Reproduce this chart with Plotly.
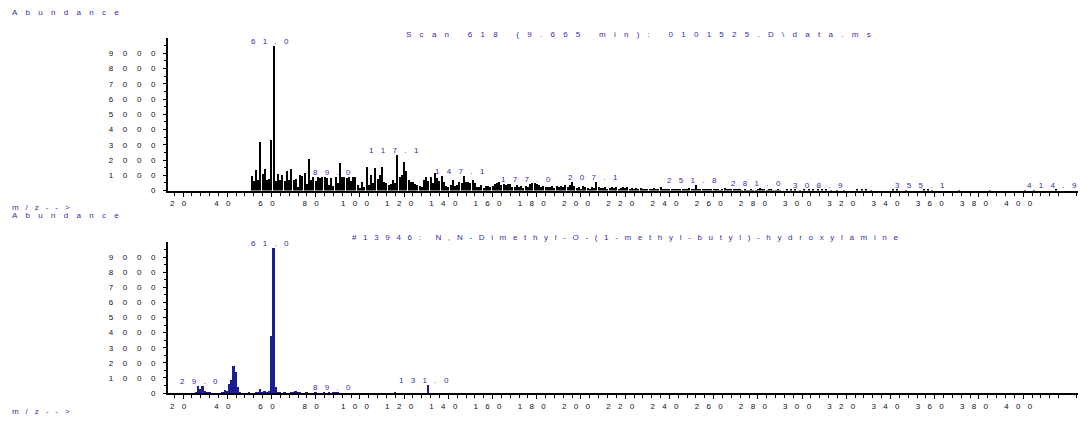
import itertools
import plotly.graph_objects as go

# ---------------- data ----------------
# Sample spectrum (scan 618) : m/z 51..290 contiguous, then sparse small peaks
top_mz_main = list(range(51, 291))
top_ab_main = [
    950, 630, 1320, 700, 3180, 1070, 1380, 700, 740, 3310,      # 51-60
    9480, 610, 1070, 670, 1030, 650, 1290, 700, 1400, 700,      # 61-70
    740, 250, 1030, 980, 1150, 420, 2040, 680, 870, 650,        # 71-80
    870, 800, 870, 870, 800, 360, 800, 290, 870, 460,           # 81-90
    1830, 870, 870, 800, 870, 640, 870, 870, 360, 150,          # 91-100
    580, 200, 1530, 370, 1030, 480, 1460, 740, 1030, 1530,      # 101-110
    590, 480, 330, 440, 700, 480, 2340, 870, 1030, 1900,        # 111-120
    1310, 700, 590, 525, 440, 370, 300, 220, 700, 870,          # 121-130
    650, 870, 480, 1140, 810, 650, 920, 525, 300, 220,          # 131-140
    370, 700, 300, 370, 590, 480, 920, 525, 525, 480,           # 141-150
    700, 480, 220, 260, 370, 150, 300, 300, 250, 300,           # 151-160
    420, 520, 560, 380, 400, 330, 430, 450, 210, 260,           # 161-170
    330, 200, 280, 150, 310, 240, 420, 480, 470, 400,           # 171-180
    390, 230, 300, 200, 260, 220, 310, 180, 270, 240,           # 181-190
    300, 260, 340, 230, 380, 560, 300, 170, 220, 130,           # 191-200
    280, 260, 190, 120, 200, 150, 580, 260, 180, 150,           # 201-210
    200, 90, 180, 230, 160, 210, 120, 160, 240, 180,            # 211-220
    200, 130, 190, 110, 150, 90, 140, 70, 110, 60,              # 221-230
    120, 80, 160, 60, 100, 220, 110, 70, 100, 60,               # 231-240
    80, 50, 100, 60, 80, 40, 70, 50, 150, 80,                   # 241-250
    60, 380, 110, 60, 80, 70, 90, 50, 60, 70,                   # 251-260
    40, 50, 30, 60, 140, 100, 120, 80, 110, 60,                 # 261-270
    90, 40, 30, 50, 20, 30, 40, 20, 30, 40,                     # 271-280
    180, 60, 50, 30, 40, 70, 30, 20, 50, 30,                    # 281-290
]
top_mz_tail = [293, 295, 297, 299, 301, 303, 305, 307, 309, 311, 313, 316, 319,
               325, 327, 329, 331, 341, 343, 347, 355, 357, 359, 371, 385, 401, 405, 415]
top_ab_tail = [40, 50, 40, 30, 60, 40, 50, 70, 60, 40, 30, 30, 20,
               40, 50, 40, 30, 80, 40, 20, 60, 70, 30, 20, 20, 30, 20, 60]
top_mz = top_mz_main + top_mz_tail
top_ab = top_ab_main + top_ab_tail
top_labels = [61.0, 89.0, 117.1, 147.1, 177.0, 207.1, 251.8, 281.0, 308.9, 355.1, 414.9]

# Library spectrum (#13946)
bot_mz = [26, 27, 28, 29, 30, 31, 32, 38, 39, 40, 41, 42, 43, 44, 45, 46, 50, 53, 54, 55,
          56, 57, 58, 59, 60, 61, 62, 63, 64, 66, 69, 70, 71, 72, 73, 76, 80, 84, 86, 88,
          89, 90, 116, 131]
bot_ab = [40, 440, 250, 440, 120, 50, 30, 40, 220, 80, 620, 880, 1760, 1420, 380, 40, 20, 60, 40, 290,
          60, 80, 30, 160, 3800, 9580, 420, 60, 30, 30, 40, 60, 110, 40, 40, 30, 30, 40, 30, 30,
          60, 30, 30, 510]
bot_labels = [29.0, 61.0, 89.0, 131.0]

x_ticks = list(range(20, 401, 20))
y_ticks = list(range(0, 9001, 1000))
top_title = "Scan 618 (9.665 min): 0101525.D\\data.ms"
bot_title = "#13946: N,N-Dimethyl-O-(1-methyl-butyl)-hydroxylamine"

# ---------------- styling helpers ----------------
FONT = "Liberation Sans, Arial, sans-serif"
FS = 8
BLUE = "#2f2fa8"
TXT = "#111111"

_SPACES = [(1.0, "\u2003"), (0.5, "\u2002"), (1 / 3, "\u2004"), (0.25, "\u2005"),
           (0.2, "\u2009"), (1 / 6, "\u2006")]


def gap(pxw, fs=FS):
    best, best_err = "", 1e9
    for n in range(1, 4):
        for combo in itertools.combinations_with_replacement(_SPACES, n):
            w = sum(c[0] for c in combo) * fs
            err = abs(w - pxw) + 0.01 * n
            if err < best_err:
                best_err, best = err, "".join(c[1] for c in combo)
    return best


def sp(s, g, word_extra=2.0):
    sep = gap(g)
    wsep = gap(2 * g + word_extra)
    return wsep.join(sep.join(list(w)) for w in s.split(" "))


W, H = 1083, 421
L, R, T, B = 168, 5, 38, 28
PW, PH = W - L - R, H - T - B


def px(xp):
    return (xp - L) / PW


def py(yp):
    return (H - B - yp) / PH


XR = [13.2, 424.8]
minor_x = [v for v in range(16, 425, 4) if v % 20 != 0]
minor_y = [v for v in range(500, 10001, 1000)]

fig = go.Figure()
fig.add_trace(go.Bar(x=top_mz, y=top_ab, width=0.48, marker=dict(color="#000000", line=dict(width=0)),
                     xaxis="x", yaxis="y", showlegend=False, hoverinfo="x+y"))
fig.add_trace(go.Bar(x=bot_mz, y=bot_ab, width=0.85, marker=dict(color="#1c1c94", line=dict(width=0)),
                     xaxis="x2", yaxis="y2", showlegend=False, hoverinfo="x+y"))

xa = dict(range=XR, showgrid=False, zeroline=False, showline=True, linecolor="black", linewidth=2,
          ticks="outside", ticklen=4, tickwidth=1, tickcolor="black",
          tickmode="array", tickvals=x_ticks, ticktext=[sp(str(v), 7.3) for v in x_ticks],
          tickfont=dict(family=FONT, size=FS, color=TXT), ticklabelshift=-5,
          minor=dict(tickvals=minor_x, ticks="outside", ticklen=3, tickwidth=1, tickcolor="black", showgrid=False))
ya = dict(range=[0, 10000], showgrid=False, zeroline=False, showline=True, linecolor="black", linewidth=2,
          ticks="outside", ticklen=3, tickwidth=1, tickcolor="black",
          tickmode="array", tickvals=y_ticks, ticktext=[sp(str(v), 9.7) for v in y_ticks],
          tickfont=dict(family=FONT, size=FS, color=TXT), ticklabelstandoff=6,
          minor=dict(tickvals=minor_y, ticks="outside", ticklen=2, tickwidth=1, tickcolor="black", showgrid=False))

top_bottom = py(190.5)
bot_top = py(242)
fig.update_layout(
    width=W, height=H, margin=dict(l=L, r=R, t=T, b=B, autoexpand=False),
    paper_bgcolor="white", plot_bgcolor="white", bargap=0, barmode="overlay",
    xaxis=dict(xa, domain=[0, 1], anchor="y"),
    yaxis=dict(ya, domain=[top_bottom, 1], anchor="x"),
    xaxis2=dict(xa, domain=[0, 1], anchor="y2"),
    yaxis2=dict(ya, domain=[0, bot_top], anchor="x2"),
    font=dict(family=FONT, size=FS, color=TXT),
)

ann = []
lookup_top = dict(zip(top_mz, top_ab))
for m in top_labels:
    ann.append(dict(x=m, y=lookup_top.get(round(m), 0), xref="x", yref="y", text=sp(f"{m:.1f}", 7.3),
                    showarrow=False, xanchor="center", yanchor="bottom", xshift=-4, yshift=-2,
                    font=dict(family=FONT, size=FS, color=BLUE)))
lookup_bot = dict(zip(bot_mz, bot_ab))
for m in bot_labels:
    ann.append(dict(x=m, y=lookup_bot.get(round(m), 0), xref="x2", yref="y2", text=sp(f"{m:.1f}", 7.3),
                    showarrow=False, xanchor="center", yanchor="bottom", xshift=-4, yshift=-2,
                    font=dict(family=FONT, size=FS, color=BLUE)))

texts = [
    ("Abundance", 10, 12.5, "left", 8.3),
    ("m/z-->", 10, 207, "left", 7.0),
    ("Abundance", 10, 215.5, "left", 8.3),
    ("m/z-->", 10, 411.5, "left", 7.0),
    (top_title, 638, 34, "center", 8.2),
    (bot_title, 625, 237.5, "center", 6.6),
]
for t, xp, yp, anc, g in texts:
    ann.append(dict(x=px(xp), y=py(yp), xref="paper", yref="paper", text=sp(t, g), showarrow=False,
                    xanchor=anc, yanchor="middle", font=dict(family=FONT, size=FS, color=BLUE)))
fig.update_layout(annotations=ann)

fig.write_html("out.html", config={"displayModeBar": False},
               post_script="document.body.style.margin='0';document.body.style.overflow='hidden';")
